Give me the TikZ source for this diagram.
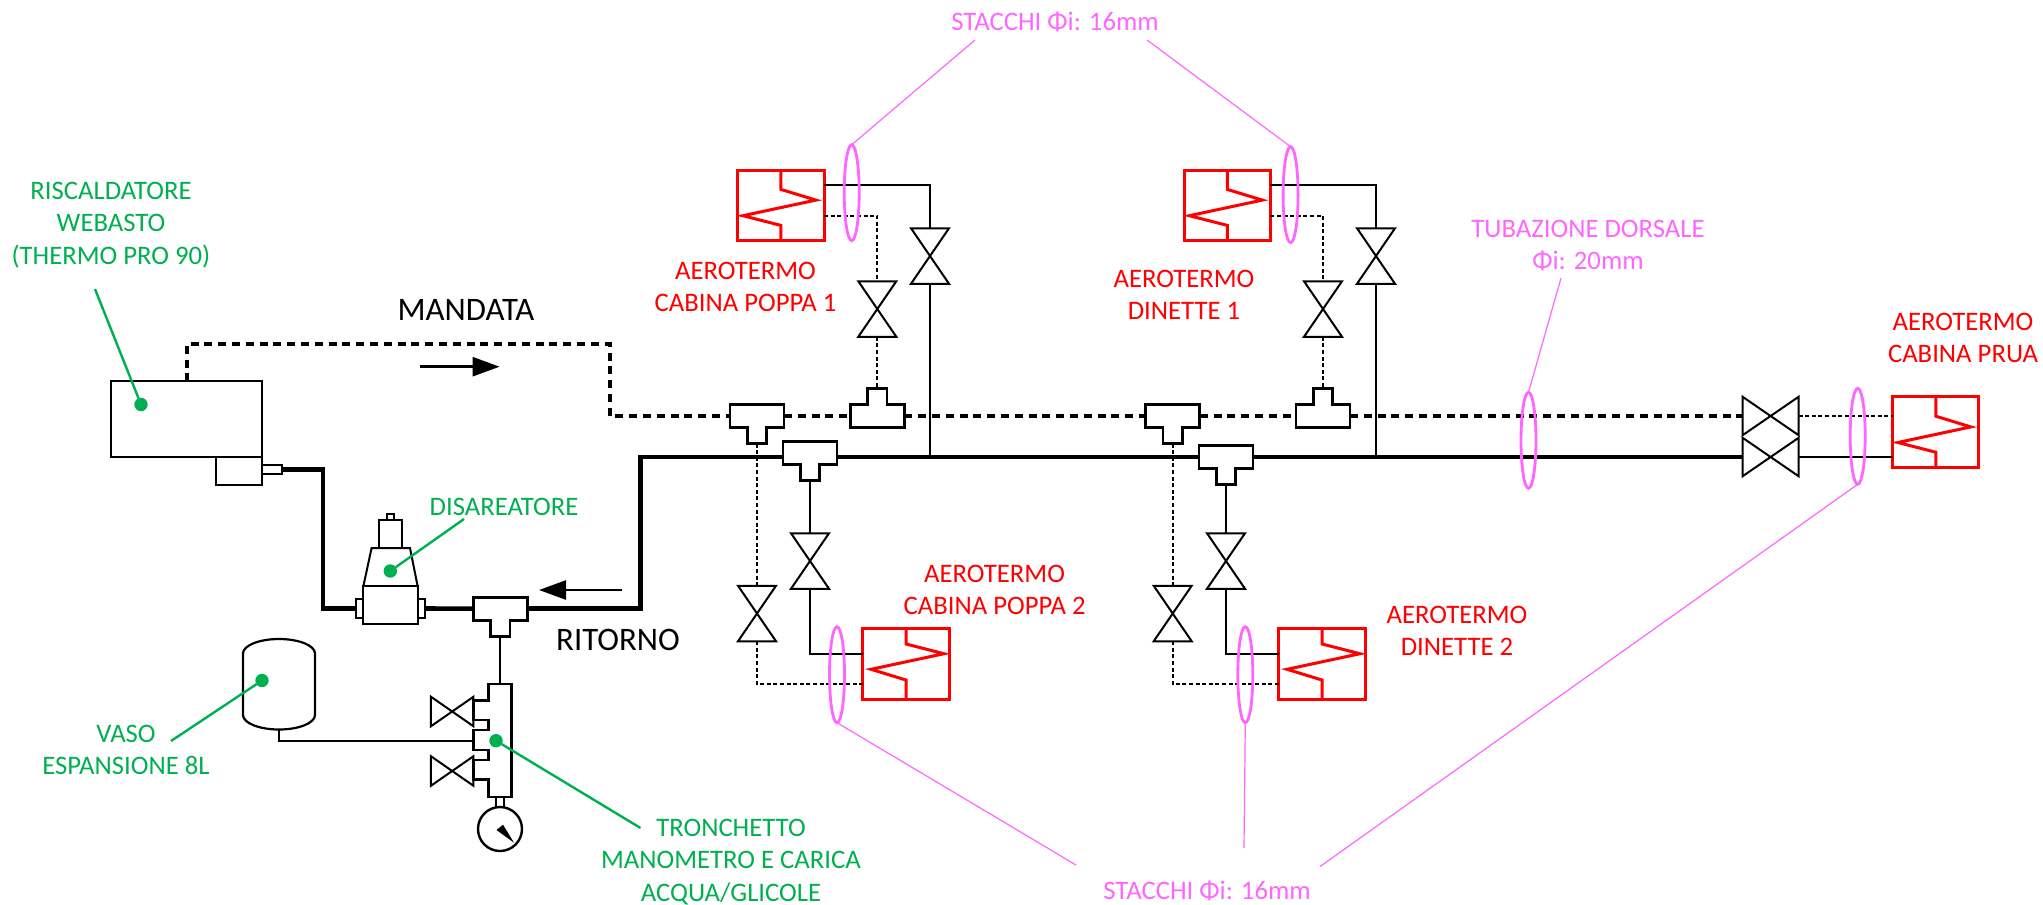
\documentclass[tikz,border=0pt]{standalone}
\usepackage{fontspec}
\setmainfont{Carlito}
\usetikzlibrary{arrows.meta,shapes.geometric}
\definecolor{labelgreen}{HTML}{00B050}
\definecolor{labelpink}{HTML}{FF66FF}
\tikzset{
    part/.style={draw=black,line width=2pt,inner sep=0pt,outer sep=0pt,rectangle},
    hidden/.style={inner sep=0pt,outer sep=0pt,rectangle},
    fitting/.style={draw=black,line width=2.6pt,line join=miter},
    thinline/.style={draw=black,line width=2pt},
    mainline/.style={draw=black,line width=4.6pt,line join=miter},
    dashline/.style={draw=black,line width=4pt,dash pattern=on 8pt off 5.8pt},
    dotline/.style={draw=black,line width=2pt,dash pattern=on 4pt off 2.6pt},
    valveline/.style={draw=black,line width=2pt,line join=miter},
    valvev/.style={hidden,minimum width=38pt,minimum height=55.5pt},
    heater/.style={draw=red,line width=3pt,inner sep=0pt,outer sep=0pt,rectangle,minimum width=86.3pt,minimum height=70.7pt},
    coil/.style={draw=red,line width=3pt,line join=miter},
    ringpipe/.style={ellipse,draw=labelpink,line width=2.8pt,inner sep=0pt,outer sep=0pt,minimum width=15pt,minimum height=96pt},
    pinkline/.style={draw=labelpink,line width=1.2pt},
    greenline/.style={draw=labelgreen,line width=2.4pt},
    greendot/.style={circle,fill=labelgreen,inner sep=0pt,outer sep=0pt,minimum size=13.4pt},
    greentext/.style={text=labelgreen,align=center,inner sep=0pt,font=\fontsize{26.7}{32.3}\selectfont},
    redtext/.style={text=red,align=center,inner sep=0pt,font=\fontsize{26.7}{32.3}\selectfont},
    pinktext/.style={text=labelpink,align=center,inner sep=0pt,font=\fontsize{26.7}{32.3}\selectfont},
    blacktext/.style={text=black,inner sep=0pt,font=\fontsize{32.8}{38}\selectfont},
    flowarrow/.style={draw=black,line width=2.6pt,-{Triangle[length=27pt,width=19pt]}},
}
\begin{document}
\begin{tikzpicture}[x=1pt,y=-1pt]
    \useasboundingbox (0,0) rectangle (2043,905);

    \coordinate (retA) at (323,608.5);
    \coordinate (retB) at (640.5,457);
    \coordinate (sendA) at (609.7,344);
    \coordinate (manifoldpipe) at (473.5,740.7);

    \node[part,minimum width=151.8pt,minimum height=75.6pt] (webasto) at (186.5,419.2) {};
    \node[part,minimum width=46pt,minimum height=28pt] (webastobox) at (239,471) {};
    \node[part,minimum width=20pt,minimum height=9.7pt] (webastoout) at (272,469.5) {};

    % Disareatore
    \node[part,minimum width=54.2pt,minimum height=38pt] (disbody) at (390.5,605) {};
    \node[part,minimum width=7.8pt,minimum height=19.5pt] (disleft) at (359.5,608.5) {};
    \node[part,minimum width=7.8pt,minimum height=19.5pt] (disright) at (421.5,608.5) {};
    \draw[valveline] (disbody.north west) -- (371.6,548) -- (410,548) -- (disbody.north east);
    \node[part,minimum width=23pt,minimum height=28pt] (distop) at (390.5,534) {};
    \node[part,minimum width=7pt,minimum height=6pt] (discap) at (390.5,517) {};

    % Tees with the stem down
    \foreach \name/\x/\y in {tret/500.2/608.7,tsend/757/416,tmainA/810/453,tsendB/1172.7/416,tmainB/1226/457}{
        \node[hidden,minimum width=54pt,minimum height=23pt] (\name) at (\x,\y) {};
        \draw[fitting] (\name.north west) -- (\name.north east) -- (\name.south east) -- ++(-17.25,0) -- ++(0,16) -- ++(-19.5,0) -- ++(0,-16) -- (\name.south west) -- cycle;
        \coordinate (\name-s) at ([yshift=-16pt]\name.south);
    }
    % Tees with the stem up
    \foreach \name/\x in {tupA/877.3,tupB/1323}{
        \node[hidden,minimum width=54pt,minimum height=23pt] (\name) at (\x,416) {};
        \draw[fitting] (\name.south west) -- (\name.south east) -- (\name.north east) -- ++(-17.25,0) -- ++(0,-16) -- ++(-19.5,0) -- ++(0,16) -- (\name.north west) -- cycle;
        \coordinate (\name-s) at ([yshift=16pt]\name.north);
    }

    % Valves
    \foreach \name/\x/\y in {vhotA/930/256,vcoldA/877.3/309,vhotB/1376/256,vcoldB/1323/309,vhotC/810/561,vcoldC/757/613.5,vhotD/1226/561,vcoldD/1172.7/613.5}{
        \node[valvev] (\name) at (\x,\y) {};
        \draw[valveline] (\name.north west) -- (\name.north east) -- (\name.south west) -- (\name.south east) -- cycle;
    }
    \foreach \name/\x/\y/\w/\h in {vsend/1770.6/416/55.8/38.3,vback/1770.6/457/55.8/38.3,vchargeA/452.2/711.5/42.5/29.5,vchargeB/452.2/771/42.5/29.5}{
        \node[hidden,minimum width=\w pt,minimum height=\h pt] (\name) at (\x,\y) {};
        \draw[valveline] (\name.north west) -- (\name.south west) -- (\name.north east) -- (\name.south east) -- cycle;
    }

    % Heaters
    \foreach \name/\x/\y/\r in {hcabA/780.9/205.4/0,hdinA/1227.3/205.4/0,hcabB/906/664/180,hdinB/1322/664/180,hprua/1935.8/432.2/0}{
        \node[heater] (\name) at (\x,\y) {};
        \draw[coil,shift={(\x,\y)},rotate=\r] (0,-35.3) -- (0,-16) -- (35,-5.3) -- (-38,10.3) -- (0,20) -- (0,35.3);
    }

    \draw[mainline] (webastoout.east) -| (retA) -- (disleft.west);% Return Line
    \draw[mainline] (disright.east) -- (tret.west);
    \draw[mainline] (tret.east) -| (retB) -- (retB -| tmainA.west);
    \draw[mainline] (retB -| tmainA.east) -- (retB -| tmainB.west);
    \draw[mainline] (retB -| tmainB.east) -- (retB -| vback.west);

    \draw[dashline] (webasto.north) |- (sendA) |- (tsend.west);% Send Line
    \draw[dashline] (tsend.east) -- (tupA.west);
    \draw[dashline] (tupA.east) -- (tsendB.west);
    \draw[dashline] (tsendB.east) -- (tupB.west);
    \draw[dashline] (tupB.east) -- (vsend.west);

    % Branches up
    \draw[thinline] ([yshift=20.4pt]hcabA.east) -| (vhotA.north);
    \draw[thinline] (vhotA.south) -- (vhotA.south |- retB);
    \draw[thinline] ([yshift=20.4pt]hdinA.east) -| (vhotB.north);
    \draw[thinline] (vhotB.south) -- (vhotB.south |- retB);
    \draw[dotline] ([yshift=-10.3pt]hcabA.east) -| (vcoldA.north);
    \draw[dotline] (vcoldA.south) -- (tupA-s);
    \draw[dotline] ([yshift=-10.3pt]hdinA.east) -| (vcoldB.north);
    \draw[dotline] (vcoldB.south) -- (tupB-s);

    % Branches down
    \draw[thinline] (tmainA-s) -- (vhotC.north);
    \draw[thinline] (vhotC.south) |- ([yshift=10pt]hcabB.west);
    \draw[thinline] (tmainB-s) -- (vhotD.north);
    \draw[thinline] (vhotD.south) |- ([yshift=10pt]hdinB.west);
    \draw[dotline] (tsend-s) -- (vcoldC.north);
    \draw[dotline] (vcoldC.south) |- ([yshift=-20.3pt]hcabB.west);
    \draw[dotline] (tsendB-s) -- (vcoldD.north);
    \draw[dotline] (vcoldD.south) |- ([yshift=-20.3pt]hdinB.west);

    \draw[dotline] (vsend.east) -- (vsend.east -| hprua.west);
    \draw[thinline] (vback.east) -- (vback.east -| hprua.west);

    % Charge manifold
    \node[hidden,minimum width=23pt,minimum height=113pt] (manifold) at (500.2,740.5) {};
    \draw[fitting] (manifold.north west) -- (manifold.north east) -- (manifold.south east) -- (manifold.south west) -- (488.7,779.6) -- (473.5,779.6) -- (473.5,760) -- (488.7,760) -- (488.7,750) -- (473.5,750) -- (473.5,730) -- (488.7,730) -- (488.7,720) -- (473.5,720) -- (473.5,700.4) -- (488.7,700.4) -- cycle;
    \draw[thinline] (tret-s) -- (manifold.north);
    \node[part,minimum width=8pt,minimum height=9.7pt] (gaugeneck) at (500,802) {};
    \node[circle,draw=black,line width=2.4pt,inner sep=0pt,outer sep=0pt,minimum size=44pt] (gauge) at (500,829) {};
    \fill[black] (496.5,830) -- (503,824.7) -- (514,842.7) -- cycle;

    % Vaso
    \node[hidden,minimum width=72pt,minimum height=90pt] (vaso) at (279,684) {};
    \draw[fitting,line width=2.2pt] (243,653.5) arc[x radius=36pt,y radius=14.5pt,start angle=180,end angle=0] -- (315,715) arc[x radius=36pt,y radius=14.5pt,start angle=0,end angle=-180] -- cycle;
    \draw[thinline] (vaso.south) |- (manifoldpipe);

    % Flow arrows
    \coordinate (flowAa) at (420,366.7);
    \coordinate (flowAb) at (499.6,366.7);
    \coordinate (flowBa) at (622,590);
    \coordinate (flowBb) at (539,590);
    \draw[flowarrow] (flowAa) -- (flowAb);
    \draw[flowarrow] (flowBa) -- (flowBb);
    \node[blacktext] (mandata) at (466,310) {MANDATA};
    \node[blacktext] (ritorno) at (618,640) {RITORNO};

    % Pink rings
    \foreach \name/\x/\y in {ringA/851.7/192.7,ringB/1290.6/194.7,ringC/837/674.7,ringD/1245.3/674.7,ringE/1528.5/440.3,ringF/1857.7/436.3}{
        \node[ringpipe] (\name) at (\x,\y) {};
    }
    \node[pinktext] (topstub) at (1055,22) {STACCHI Φi: 16mm};
    \node[pinktext] (bottomstub) at (1207,891) {STACCHI Φi: 16mm};
    \node[pinktext] (dorsale) at (1588,245.5) {TUBAZIONE DORSALE\\Φi: 20mm};
    \coordinate (pinkA) at (975,40);
    \coordinate (pinkB) at (1147,40);
    \coordinate (pinkC) at (1076,865);
    \coordinate (pinkD) at (1244,848);
    \coordinate (pinkE) at (1320,866.5);
    \coordinate (pinkF) at (1561,278);
    \draw[pinkline] (pinkA) -- (ringA.north);
    \draw[pinkline] (pinkB) -- (ringB.north);
    \draw[pinkline] (pinkC) -- (ringC.south);
    \draw[pinkline] (pinkD) -- (ringD.south);
    \draw[pinkline] (pinkE) -- (ringF.south);
    \draw[pinkline] (pinkF) -- (ringE.north);

    % Red labels
    \node[redtext] (cabpoppaA) at (745.5,287) {AEROTERMO\\CABINA POPPA 1};
    \node[redtext] (dinA) at (1184,294.5) {AEROTERMO\\DINETTE 1};
    \node[redtext] (cabpoppaB) at (994.6,590) {AEROTERMO\\CABINA POPPA 2};
    \node[redtext] (dinB) at (1457,631) {AEROTERMO\\DINETTE 2};
    \node[redtext] (cabprua) at (1963,338) {AEROTERMO\\CABINA PRUA};

    % Green labels
    \node[greentext] (lblwebasto) at (111,225) {RISCALDATORE\\WEBASTO\\(THERMO PRO 90)};
    \node[greentext] (lbldis) at (504,507) {DISAREATORE};
    \node[greentext] (lblvaso) at (126,750) {VASO\\ESPANSIONE 8L};
    \node[greentext] (lbltron) at (731,862) {TRONCHETTO\\MANOMETRO E CARICA\\ACQUA/GLICOLE};
    \node[greendot] (dotwebasto) at (141,404.5) {};
    \node[greendot] (dotdis) at (390.3,571) {};
    \node[greendot] (dotvaso) at (262,680.5) {};
    \node[greendot] (dottron) at (496,740.7) {};
    \coordinate (greenA) at (95,289);
    \coordinate (greenB) at (464,519);
    \coordinate (greenC) at (171,741);
    \coordinate (greenD) at (640.5,828);
    \draw[greenline] (greenA) -- (dotwebasto);
    \draw[greenline] (greenB) -- (dotdis);
    \draw[greenline] (greenC) -- (dotvaso);
    \draw[greenline] (greenD) -- (dottron);
\end{tikzpicture}
\end{document}
